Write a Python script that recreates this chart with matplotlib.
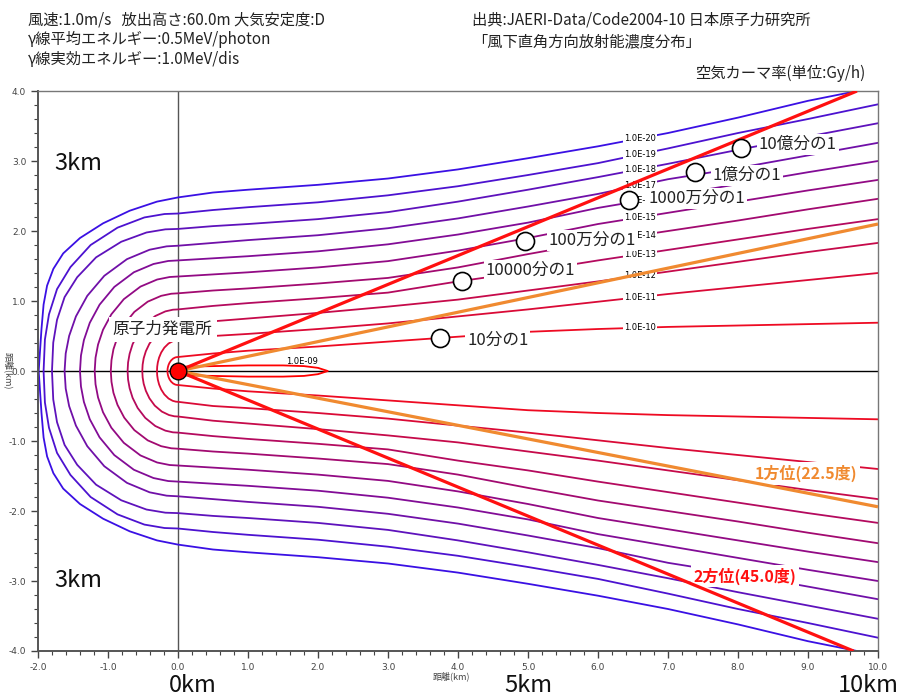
import numpy as np
import matplotlib
matplotlib.use("Agg")
import matplotlib.pyplot as plt

plt.rcParams['font.family'] = ['Noto Sans CJK JP', 'DejaVu Sans']

# contour levels (air kerma rate, Gy/h)
LEVELS = ['1.0E-10', '1.0E-11', '1.0E-12', '1.0E-13', '1.0E-14', '1.0E-15',
          '1.0E-16', '1.0E-17', '1.0E-18', '1.0E-19', '1.0E-20']
COLORS = ['#EE0A22', '#DA0A36', '#C60A4A', '#B40A5E', '#A20A70', '#920A84',
          '#820C96', '#7010A8', '#5E12BC', '#4C12D0', '#3A10E4']

# upwind "nose" of each contour (upper half, x<0)
NOSE_X = [
    [-0.150, -0.149, -0.144, -0.135, -0.120, -0.098, -0.068, -0.038, -0.015],
    [-0.300, -0.297, -0.288, -0.270, -0.240, -0.195, -0.135, -0.075, -0.030],
    [-0.510, -0.505, -0.490, -0.459, -0.408, -0.332, -0.230, -0.128, -0.051],
    [-0.720, -0.713, -0.691, -0.648, -0.576, -0.468, -0.324, -0.180, -0.072],
    [-0.960, -0.950, -0.922, -0.864, -0.768, -0.624, -0.432, -0.240, -0.096],
    [-1.190, -1.178, -1.142, -1.071, -0.952, -0.774, -0.536, -0.298, -0.119],
    [-1.400, -1.386, -1.344, -1.260, -1.120, -0.910, -0.630, -0.350, -0.140],
    [-1.620, -1.604, -1.555, -1.458, -1.296, -1.053, -0.729, -0.405, -0.162],
    [-1.800, -1.782, -1.728, -1.620, -1.440, -1.170, -0.810, -0.450, -0.180],
    [-1.920, -1.901, -1.843, -1.728, -1.536, -1.248, -0.864, -0.480, -0.192],
    [-1.990, -1.970, -1.950, -1.920, -1.870, -1.780, -1.640, -1.400, -1.070, -0.690, -0.300],
]
NOSE_Y = [
    [0.000, 0.028, 0.056, 0.087, 0.120, 0.152, 0.179, 0.194, 0.199],
    [0.000, 0.062, 0.123, 0.192, 0.264, 0.334, 0.393, 0.426, 0.438],
    [0.000, 0.091, 0.182, 0.283, 0.390, 0.494, 0.580, 0.629, 0.647],
    [0.000, 0.123, 0.246, 0.384, 0.528, 0.669, 0.786, 0.852, 0.876],
    [0.000, 0.155, 0.311, 0.484, 0.666, 0.844, 0.991, 1.074, 1.104],
    [0.000, 0.189, 0.378, 0.589, 0.810, 1.026, 1.206, 1.307, 1.343],
    [0.000, 0.221, 0.442, 0.689, 0.948, 1.201, 1.411, 1.529, 1.572],
    [0.000, 0.251, 0.501, 0.780, 1.074, 1.360, 1.598, 1.733, 1.781],
    [0.000, 0.406, 0.731, 1.056, 1.340, 1.624, 1.847, 1.979, 2.024],
    [0.000, 0.450, 0.810, 1.170, 1.485, 1.800, 2.048, 2.194, 2.243],
    [0.000, 0.300, 0.600, 0.950, 1.220, 1.460, 1.680, 1.900, 2.110, 2.290, 2.420],
]

# downwind half-widths (km) of each contour
FAR_X = [0, 0.5, 1, 2, 3, 4, 5, 6, 7, 8, 9, 10]
HALF_W = [
    [0.20, 0.25, 0.29, 0.35, 0.42, 0.49, 0.56, 0.60, 0.63, 0.65, 0.67, 0.69],
    [0.44, 0.50, 0.53, 0.60, 0.68, 0.78, 0.88, 0.99, 1.10, 1.20, 1.30, 1.40],
    [0.65, 0.71, 0.75, 0.83, 0.92, 1.02, 1.15, 1.28, 1.42, 1.56, 1.70, 1.83],
    [0.88, 0.93, 0.97, 1.04, 1.12, 1.28, 1.42, 1.58, 1.73, 1.88, 2.03, 2.17],
    [1.11, 1.15, 1.18, 1.25, 1.33, 1.48, 1.67, 1.85, 2.00, 2.15, 2.31, 2.46],
    [1.35, 1.38, 1.41, 1.48, 1.57, 1.72, 1.90, 2.10, 2.26, 2.42, 2.58, 2.73],
    [1.58, 1.61, 1.64, 1.71, 1.81, 1.95, 2.12, 2.33, 2.50, 2.67, 2.84, 3.00],
    [1.79, 1.83, 1.87, 1.94, 2.04, 2.18, 2.35, 2.53, 2.74, 2.90, 3.08, 3.26],
    [2.03, 2.07, 2.10, 2.17, 2.27, 2.42, 2.59, 2.77, 2.96, 3.16, 3.35, 3.54],
    [2.25, 2.30, 2.34, 2.41, 2.51, 2.64, 2.80, 2.97, 3.18, 3.40, 3.60, 3.81],
    [2.48, 2.55, 2.59, 2.66, 2.75, 2.88, 3.04, 3.21, 3.40, 3.62, 3.86, 4.06],
]

# innermost 1.0E-09 loop (upper half)
L09_X = [-0.08, -0.05, 0.0, 0.5, 1.0, 1.5, 1.8, 2.0, 2.14]
L09_Y = [0.00, 0.05, 0.06, 0.07, 0.08, 0.08, 0.07, 0.045, 0.00]

# direction lines
DIR2_X = [9.70, 0.0, 9.65]
DIR2_Y = [4.0, 0.0, -4.0]
DIR1_X = [10.0, 0.0, 10.0]
DIR1_Y = [2.10, 0.0, -1.94]

# markers on contours
MARK_X = [3.74, 4.06, 4.96, 6.45, 7.39, 8.05]
MARK_Y = [0.47, 1.29, 1.86, 2.45, 2.84, 3.19]
MARK_TXT = ['10分の1', '10000分の1', '100万分の1', '1000万分の1', '1億分の1', '10億分の1']
MARK_TX = [4.13, 4.40, 5.30, 6.72, 7.64, 8.30]
MARK_TY = [0.44, 1.44, 1.87, 2.46, 2.80, 3.24]

fig = plt.figure(figsize=(8.98, 6.97), dpi=100)
ax = fig.add_axes([0.0423, 0.066, 0.9354, 0.8034])
ax.set_xlim(-2, 10)
ax.set_ylim(-4, 4)

ax.axhline(0, color='black', lw=1.0, zorder=1)
ax.axvline(0, color='#555555', lw=1.0, zorder=1)

for i in range(len(LEVELS)):
    ux = np.array(NOSE_X[i] + FAR_X)
    uy = np.array(NOSE_Y[i] + HALF_W[i])
    xs = np.concatenate([ux[::-1], ux[1:]])
    ys = np.concatenate([uy[::-1], -uy[1:]])
    ax.plot(xs, ys, color=COLORS[i], lw=1.3, zorder=2, solid_joinstyle='round')
    ly = np.interp(6.6, FAR_X, HALF_W[i])
    ax.text(6.6, ly, LEVELS[i], fontsize=6, family='DejaVu Sans', ha='center',
            va='center', zorder=4,
            bbox=dict(facecolor='white', edgecolor='none', pad=0.5))

lx = np.array(L09_X)
ly9 = np.array(L09_Y)
ax.plot(np.concatenate([lx, lx[::-1]]), np.concatenate([ly9, -ly9[::-1]]),
        color='#FF0000', lw=1.3, zorder=2)
ax.text(1.77, 0.14, '1.0E-09', fontsize=6, family='DejaVu Sans', ha='center',
        va='center', zorder=4)

ax.plot(DIR1_X, DIR1_Y, color='#F08A30', lw=2.3, zorder=5, solid_capstyle='butt')
ax.plot(DIR2_X, DIR2_Y, color='#FF1010', lw=2.3, zorder=5, solid_capstyle='butt')

ax.plot(MARK_X, MARK_Y, 'o', ms=13, mfc='white', mec='black', mew=1.2, zorder=6)
for tx, ty, t in zip(MARK_TX, MARK_TY, MARK_TXT):
    ax.text(tx, ty, t, fontsize=12, ha='left', va='center', color='#222222',
            zorder=4, bbox=dict(facecolor='white', edgecolor='none', pad=1.5))

ax.plot([0], [0], 'o', ms=12, mfc='#FF0000', mec='black', mew=1.0, zorder=7)

ax.text(-0.22, 0.59, '原子力発電所', fontsize=12, ha='center', va='center',
        color='#222222', zorder=4,
        bbox=dict(facecolor='white', edgecolor='none', pad=3))
ax.text(8.97, -1.46, '1方位(22.5度)', fontsize=11.5, fontweight='bold',
        color='#F08A30', ha='center', va='center', zorder=4,
        bbox=dict(facecolor='white', edgecolor='none', pad=2))
ax.text(8.1, -2.93, '2方位(45.0度)', fontsize=11.5, fontweight='bold',
        color='#FF1010', ha='center', va='center', zorder=4,
        bbox=dict(facecolor='white', edgecolor='none', pad=2))

ax.text(-1.76, 2.97, '3km', fontsize=17, ha='left', va='center', color='#111111')
ax.text(-1.76, -2.99, '3km', fontsize=17, ha='left', va='center', color='#111111')

# axes styling
ax.set_xticks(np.arange(-2, 10.01, 1.0))
ax.set_yticks(np.arange(-4, 4.01, 1.0))
ax.set_xticks(np.arange(-2, 10.01, 0.2), minor=True)
ax.set_yticks(np.arange(-4, 4.01, 0.2), minor=True)
ax.set_xticklabels(['%.1f' % v for v in np.arange(-2, 10.01, 1.0)])
ax.set_yticklabels(['%.1f' % v for v in np.arange(-4, 4.01, 1.0)])
ax.tick_params(which='both', direction='out', colors='#444444', labelsize=6.5,
               top=False, right=False)
ax.tick_params(which='major', length=5, width=1.0)
ax.tick_params(which='minor', length=3, width=0.8)
for lab in ax.get_xticklabels() + ax.get_yticklabels():
    lab.set_family('DejaVu Sans')
for s in ['left', 'bottom']:
    ax.spines[s].set_color('#555555')
    ax.spines[s].set_linewidth(1.4)
for s in ['top', 'right']:
    ax.spines[s].set_color('#777777')
    ax.spines[s].set_linewidth(1.0)

fig.text(0.503, 0.029, '距離(km)', fontsize=6.5, ha='center', va='center', color='#444444')
fig.text(0.009, 0.468, '距離(km)', fontsize=6.5, ha='center', va='center',
         rotation=270, color='#444444')

# header
hc = '#222222'
fig.text(0.031, 0.971, '風速:1.0m/s   放出高さ:60.0m 大気安定度:D', fontsize=11, va='center', color=hc)
fig.text(0.031, 0.943, 'γ線平均エネルギー:0.5MeV/photon', fontsize=11, va='center', color=hc)
fig.text(0.031, 0.914, 'γ線実効エネルギー:1.0MeV/dis', fontsize=11, va='center', color=hc)
fig.text(0.5256, 0.971, '出典:JAERI-Data/Code2004-10 日本原子力研究所', fontsize=11, va='center', color=hc)
fig.text(0.5256, 0.940, '「風下直角方向放射能濃度分布」', fontsize=11, va='center', color=hc)
fig.text(0.964, 0.895, '空気カーマ率(単位:Gy/h)', fontsize=11, ha='right', va='center', color=hc)

# bottom distance marks
for xf, t in zip([0.215, 0.588, 0.9666], ['0km', '5km', '10km']):
    fig.text(xf, 0.017, t, fontsize=17, ha='center', va='center', color='#111111')

fig.savefig('out.png', dpi=100)
